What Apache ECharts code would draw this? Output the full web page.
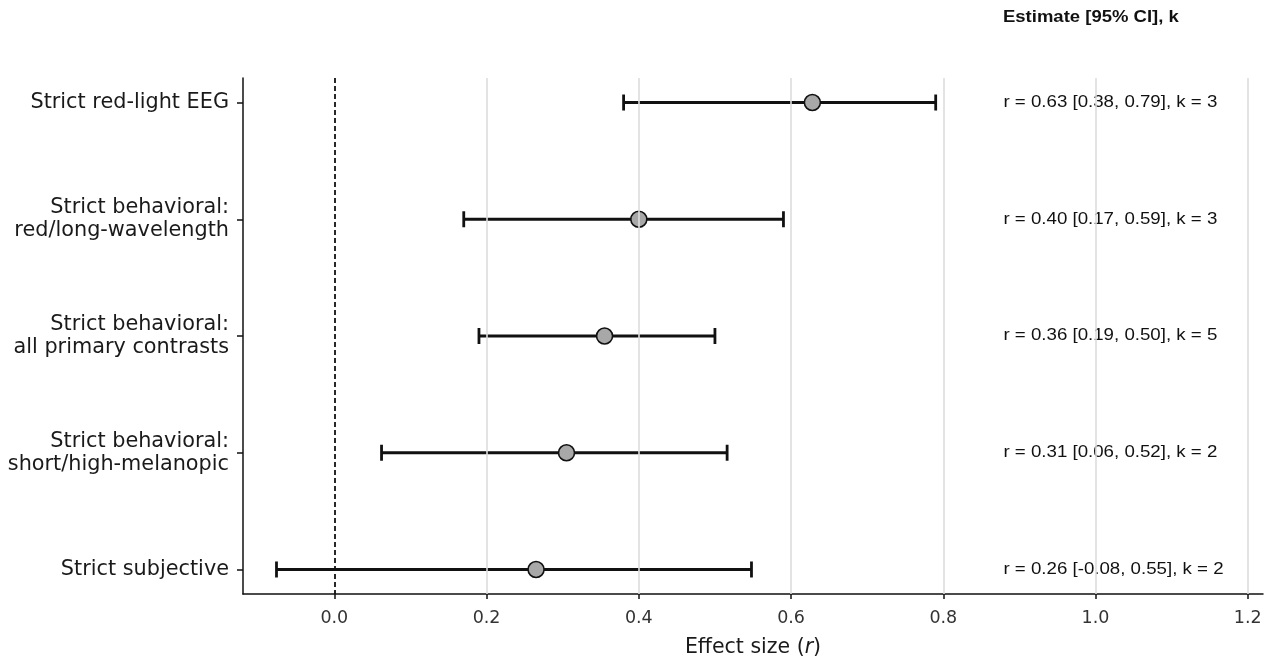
<!DOCTYPE html>
<html>
<head>
<meta charset="utf-8">
<script src="https://cdn.jsdelivr.net/npm/echarts@6/dist/echarts.min.js"></script>
<style>html,body{margin:0;padding:0;background:#fff}#c{width:1273px;height:664px}</style>
</head>
<body>
<div id="c"></div>
<script>
const categories = [
  'Strict red-light EEG',
  'Strict behavioral:\nred/long-wavelength',
  'Strict behavioral:\nall primary contrasts',
  'Strict behavioral:\nshort/high-melanopic',
  'Strict subjective'
];
const estimates = [0.628, 0.400, 0.355, 0.305, 0.265];
const lowerCI = [0.380, 0.170, 0.190, 0.062, -0.076];
const upperCI = [0.790, 0.590, 0.500, 0.516, 0.548];
const annotations = [
  'r = 0.63 [0.38, 0.79], k = 3',
  'r = 0.40 [0.17, 0.59], k = 3',
  'r = 0.36 [0.19, 0.50], k = 5',
  'r = 0.31 [0.06, 0.52], k = 2',
  'r = 0.26 [-0.08, 0.55], k = 2'
];
const xTicks = [0, 0.2, 0.4, 0.6, 0.8, 1.0, 1.2];
const headerText = 'Estimate [95% CI], k';

const annotX = 0.879;
const catIdx = categories.map((c, i) => i);

const chart = echarts.init(document.getElementById('c'), null, {renderer: 'canvas'});
chart.setOption({
  animation: false,
  backgroundColor: '#fff',
  graphic: [{
    type: 'text', x: 1003, y: 18, scaleX: 1.136, silent: true,
    style: {text: headerText, fontFamily: 'Liberation Sans', fontSize: 16.3, fontWeight: 'bold',
      fill: '#111', textAlign: 'left', textVerticalAlign: 'middle'}
  }],
  grid: {left: 243, right: 10, top: 78, bottom: 70, containLabel: false},
  xAxis: {
    type: 'value', min: -0.12, max: 1.22,
    axisLine: {show: true, onZero: false, lineStyle: {color: '#111', width: 1.5}},
    axisTick: {show: true, customValues: xTicks, length: 5, lineStyle: {color: '#111', width: 1.5}},
    axisLabel: {customValues: xTicks, formatter: v => v.toFixed(1), margin: 15,
      fontFamily: 'DejaVu Sans', fontSize: 17.5, color: '#333'},
    splitLine: {show: false},
    name: '{n|Effect size (}{i|r}{n|)}',
    nameLocation: 'middle', nameGap: 43,
    nameTextStyle: {rich: {
      n: {fontFamily: 'DejaVu Sans', fontSize: 20.5, color: '#1a1a1a'},
      i: {fontFamily: 'DejaVu Sans', fontSize: 20.5, fontStyle: 'italic', color: '#1a1a1a'}
    }}
  },
  yAxis: {
    type: 'value', inverse: true, min: -0.21, max: 4.21,
    axisLine: {show: true, onZero: false, lineStyle: {color: '#111', width: 1.5}},
    axisTick: {show: true, customValues: catIdx, length: 6, lineStyle: {color: '#111', width: 1.5}},
    axisLabel: {customValues: catIdx, formatter: v => categories[Math.round(v)] || '', margin: 14,
      fontFamily: 'DejaVu Sans', fontSize: 20.8, color: '#1a1a1a', lineHeight: 23, align: 'right'},
    splitLine: {show: false}
  },
  series: [
    {
      type: 'scatter', data: [], z: 1, silent: true,
      markLine: {
        silent: true, symbol: 'none', label: {show: false}, animation: false,
        data: xTicks.filter(v => v !== 0).map(v => ({xAxis: v, lineStyle: {color: '#dcdcdc', width: 1.6, type: 'solid'}}))
          .concat([{xAxis: 0, lineStyle: {color: '#111', width: 1.8, type: [5, 3]}}])
      }
    },
    {
      type: 'custom', z: 3, silent: true,
      data: catIdx.map(i => [i, lowerCI[i], upperCI[i]]),
      encode: {x: [1, 2], y: 0},
      renderItem: function (params, api) {
        const i = api.value(0);
        const a = api.coord([api.value(1), i]);
        const b = api.coord([api.value(2), i]);
        const h = 8;
        const st = {stroke: '#111', lineWidth: 2.8};
        return {type: 'group', children: [
          {type: 'line', shape: {x1: a[0], y1: a[1], x2: b[0], y2: b[1]}, style: st},
          {type: 'line', shape: {x1: a[0], y1: a[1] - h, x2: a[0], y2: a[1] + h}, style: st},
          {type: 'line', shape: {x1: b[0], y1: b[1] - h, x2: b[0], y2: b[1] + h}, style: st}
        ]};
      }
    },
    {
      type: 'scatter', z: 4, silent: true,
      data: catIdx.map(i => [estimates[i], i]),
      symbol: 'circle', symbolSize: 16,
      itemStyle: {color: '#a8a8a8', borderColor: '#111', borderWidth: 1.6, opacity: 1}
    },
    {
      type: 'custom', z: 2, silent: true,
      data: catIdx.map(i => [annotX, i]),
      encode: {x: 0, y: 1},
      renderItem: function (params, api) {
        const i = api.value(1);
        const p = api.coord([api.value(0), i]);
        return {type: 'text', x: p[0], y: p[1], scaleX: 1.147, style: {
          text: annotations[i], fontFamily: 'Liberation Sans', fontSize: 16.3, fill: '#111',
          textAlign: 'left', textVerticalAlign: 'middle'
        }};
      }
    }
  ]
});
</script>
</body>
</html>
